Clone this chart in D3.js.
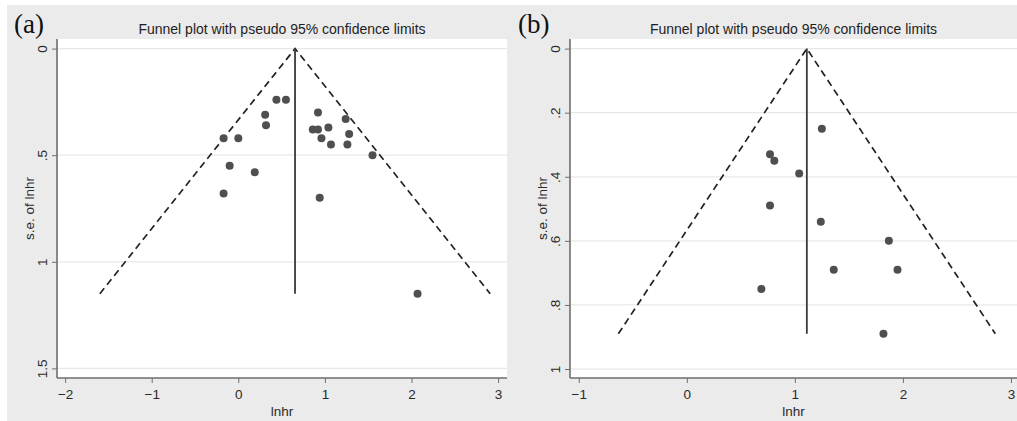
<!DOCTYPE html>
<html>
<head>
<meta charset="utf-8">
<script src="https://cdn.jsdelivr.net/npm/d3@7"></script>
<style>
  html, body { margin: 0; padding: 0; background: #fff; }
  svg { display: block; }
</style>
</head>
<body>
<div id="chart"></div>
<script>
// panel (a)
const lnhrA = [0.44, 0.55, 0.31, 0.32, -0.17, 0.00, -0.10, 0.19, -0.17, 0.92, 0.86, 0.92, 1.04, 0.96, 1.07, 1.24, 1.28, 1.26, 1.55, 0.94, 2.07];
const seA   = [0.24, 0.24, 0.31, 0.36, 0.42, 0.42, 0.55, 0.58, 0.68, 0.30, 0.38, 0.38, 0.37, 0.42, 0.45, 0.33, 0.40, 0.45, 0.50, 0.70, 1.15];
const pooledA = 0.655;
const xTicksA = [-2, -1, 0, 1, 2, 3];
const yTicksA = [0, 0.5, 1, 1.5];

// panel (b)
const lnhrB = [1.25, 0.77, 0.81, 1.04, 0.77, 1.24, 1.87, 1.36, 1.95, 0.69, 1.82];
const seB   = [0.25, 0.33, 0.35, 0.39, 0.49, 0.54, 0.60, 0.69, 0.69, 0.75, 0.89];
const pooledB = 1.111;
const xTicksB = [-1, 0, 1, 2, 3];
const yTicksB = [0, 0.2, 0.4, 0.6, 0.8, 1];

const title = "Funnel plot with pseudo 95% confidence limits";
const W = 1017, H = 421;
const sans = "Liberation Sans, Arial, sans-serif";

const svg = d3.select("#chart").append("svg")
    .attr("width", W)
    .attr("height", H);

// grey graph region
svg.append("rect")
    .attr("x", 7).attr("y", 5)
    .attr("width", W - 7).attr("height", H - 5)
    .attr("fill", "#ebebeb");

// stata style numbers: .5 instead of 0.5
const stataFmt = v => String(+v.toFixed(2)).replace(/^0\./, ".").replace(/^-0\./, "-.");

function drawPanel(p) {
    const x = d3.scaleLinear().domain(p.xDomain).range([p.left, p.right]);
    const y = d3.scaleLinear().domain(p.yDomain).range([p.top, p.bottom]);
    const g = svg.append("g");

    g.append("rect")
        .attr("x", p.left).attr("y", p.top)
        .attr("width", p.right - p.left).attr("height", p.bottom - p.top)
        .attr("fill", "#fff");

    // grid
    g.selectAll(".grid")
        .data(p.yTicks)
        .enter()
        .append("line")
        .attr("x1", p.left).attr("x2", p.right)
        .attr("y1", d => y(d)).attr("y2", d => y(d))
        .attr("stroke", "#e8e8e8")
        .attr("stroke-width", 1.2);

    // axes
    const xAxis = g.append("g")
        .attr("transform", `translate(0,${p.bottom})`)
        .call(d3.axisBottom(x).tickValues(p.xTicks).tickFormat(d3.format("d")).tickSize(5).tickPadding(6));
    const yAxis = g.append("g")
        .attr("transform", `translate(${p.left},0)`)
        .call(d3.axisLeft(y).tickValues(p.yTicks).tickFormat(stataFmt).tickSize(5).tickPadding(3));

    [xAxis, yAxis].forEach(a => {
        a.select(".domain").attr("stroke", "#6e6e6e").attr("stroke-width", 1.6);
        a.selectAll(".tick line").attr("stroke", "#6e6e6e");
        a.selectAll("text")
            .attr("fill", "#2a2a2a")
            .attr("font-family", sans)
            .attr("font-size", 13.5);
    });
    xAxis.select(".domain").attr("d", `M${p.left},0H${p.right}`);
    yAxis.select(".domain").attr("d", `M0,${p.top}V${p.bottom}`);

    // rotated y tick labels
    yAxis.selectAll(".tick text")
        .attr("x", null)
        .attr("text-anchor", "middle")
        .attr("transform", "translate(-15,0) rotate(-90)")
        .attr("dy", "0.35em")
        .attr("y", 0);

    // funnel
    const seMax = d3.max(p.se);
    const funnel = [
        [p.pooled - 1.96 * seMax, seMax],
        [p.pooled, 0],
        [p.pooled + 1.96 * seMax, seMax]
    ];
    g.append("path")
        .attr("d", d3.line().x(d => x(d[0])).y(d => y(d[1]))(funnel))
        .attr("fill", "none")
        .attr("stroke", "#222")
        .attr("stroke-width", 1.7)
        .attr("stroke-dasharray", "7,4.5");

    g.append("line")
        .attr("x1", x(p.pooled)).attr("x2", x(p.pooled))
        .attr("y1", y(0)).attr("y2", y(seMax))
        .attr("stroke", "#3a3a3a")
        .attr("stroke-width", 1.8);

    // studies
    g.selectAll(".dot")
        .data(p.lnhr.map((v, i) => ({lnhr: v, se: p.se[i]})))
        .enter()
        .append("circle")
        .attr("cx", d => x(d.lnhr))
        .attr("cy", d => y(d.se))
        .attr("r", 4)
        .attr("fill", "#4f4f4f");

    const mid = (p.left + p.right) / 2;
    g.append("text")
        .attr("x", mid).attr("y", 34)
        .attr("text-anchor", "middle")
        .attr("font-family", sans)
        .attr("font-size", 14)
        .attr("fill", "#1e1e1e")
        .text(title);

    g.append("text")
        .attr("x", mid).attr("y", 416)
        .attr("text-anchor", "middle")
        .attr("font-family", sans)
        .attr("font-size", 13.5)
        .attr("fill", "#2a2a2a")
        .text("lnhr");

    g.append("text")
        .attr("transform", `translate(${p.left - 28},${(p.top + p.bottom) / 2}) rotate(-90)`)
        .attr("text-anchor", "middle")
        .attr("dy", "0.35em")
        .attr("font-family", sans)
        .attr("font-size", 13.5)
        .attr("fill", "#2a2a2a")
        .text("s.e. of lnhr");

    g.append("text")
        .attr("x", p.labelX).attr("y", 33)
        .attr("font-family", "Liberation Serif, Times New Roman, serif")
        .attr("font-size", 27)
        .attr("fill", "#111")
        .text(p.label);
}

drawPanel({
    label: "(a)", labelX: 14,
    left: 57, right: 507, top: 39, bottom: 378,
    xDomain: [-2.094, 3.103], yDomain: [-0.045, 1.545],
    xTicks: xTicksA, yTicks: yTicksA,
    lnhr: lnhrA, se: seA, pooled: pooledA
});

drawPanel({
    label: "(b)", labelX: 518,
    left: 570, right: 1017, top: 39, bottom: 378,
    xDomain: [-1.081, 3.056], yDomain: [-0.030, 1.028],
    xTicks: xTicksB, yTicks: yTicksB,
    lnhr: lnhrB, se: seB, pooled: pooledB
});
</script>
</body>
</html>
